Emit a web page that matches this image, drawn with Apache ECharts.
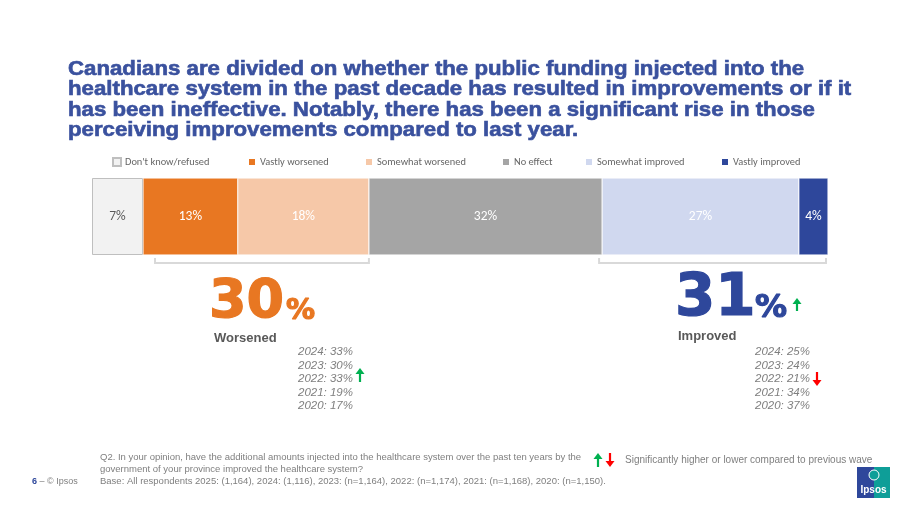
<!DOCTYPE html>
<html>
<head>
<meta charset="utf-8">
<script src="https://cdn.jsdelivr.net/npm/echarts@6/dist/echarts.min.js"></script>
<style>
  html, body { margin: 0; padding: 0; background: #fff; }
  #main { width: 920px; height: 518px; }
</style>
</head>
<body>
<div id="main"></div>
<script>
// --- data ---
const categories = ['2025'];
const seriesNames = ["Don't know/refused", 'Vastly worsened', 'Somewhat worsened', 'No effect', 'Somewhat improved', 'Vastly improved'];
const seriesValues = [7, 13, 18, 32, 27, 4];
const netWorsened = 30;
const netImproved = 31;
const prevYears = [2024, 2023, 2022, 2021, 2020];
const worsenedPrev = [33, 30, 33, 19, 17];
const improvedPrev = [25, 24, 21, 34, 37];
const titleText = 'Canadians are divided on whether the public funding injected into the\nhealthcare system in the past decade has resulted in improvements or if it\nhas been ineffective. Notably, there has been a significant rise in those\nperceiving improvements compared to last year.';

const colors = ['#F2F2F2', '#E87722', '#F6C8A8', '#A5A5A5', '#D0D8EF', '#2E479B'];
const labelColors = ['#595959', '#fff', '#fff', '#fff', '#fff', '#fff'];
const legendLeft = [112, 247, 364, 501, 584, 720];
const BLUE = '#3A519E';
const GREEN = '#00B050';
const RED = '#FF0000';
const barFont = 'Carlito, "Liberation Sans Narrow", "Noto Sans", sans-serif';
const lab = '"Liberation Sans", Arial, sans-serif';
const bigFont = '"DejaVu Sans", sans-serif';

const chart = echarts.init(document.getElementById('main'));

const total = seriesValues.reduce((a, b) => a + b, 0);

const option = {
  animation: false,
  legend: seriesNames.map((name, i) => ({
    data: [name],
    left: legendLeft[i],
    top: 157,
    padding: 0,
    itemWidth: 8,
    itemHeight: 8,
    itemGap: 0,
    icon: 'rect',
    selectedMode: false,
    textStyle: { fontFamily: barFont, fontSize: 10.4, color: '#666666', padding: [0, 0, 0, -1] }
  })),
  grid: { left: 92, right: 92, top: 178, height: 77 },
  xAxis: { type: 'value', min: 0, max: total, show: false },
  yAxis: { type: 'category', data: categories, show: false },
  series: seriesNames.map((name, i) => ({
    name: name,
    type: 'bar',
    stack: 'all',
    barWidth: '100%',
    data: [seriesValues[i]],
    itemStyle: {
      color: colors[i],
      borderColor: i === 0 ? '#BFBFBF' : '#ffffff',
      borderWidth: i === 0 ? 1 : 0.5
    },
    label: {
      show: true,
      position: 'inside',
      formatter: '{c}%',
      fontFamily: barFont,
      fontSize: 13.5,
      color: labelColors[i]
    }
  }))
};
chart.setOption(option);

// --- annotations (positioned from the axis) ---
function arrow(x, yTop, h, up, color) {
  const yBot = yTop + h;
  const tip = up ? yTop : yBot;
  const dir = up ? 1 : -1;
  return {
    type: 'group',
    children: [
      { type: 'line', shape: { x1: x, y1: yTop + (up ? 3 : 0), x2: x, y2: yBot - (up ? 0 : 3) },
        style: { stroke: color, lineWidth: 2.2 } },
      { type: 'polygon', shape: { points: [[x, tip], [x - 4.5, tip + dir * 6], [x + 4.5, tip + dir * 6]] },
        style: { fill: color } }
    ]
  };
}

function bracket(x1, x2, y) {
  return {
    type: 'polyline',
    shape: { points: [[x1, y - 5], [x1, y], [x2, y], [x2, y - 5]] },
    style: { stroke: '#D9D9D9', lineWidth: 2, fill: null }
  };
}

function historyList(x, vals) {
  return vals.map((v, i) => ({
    type: 'text',
    x: x,
    y: 352 + i * 13.5,
    style: {
      text: prevYears[i] + ': ' + v + '%',
      fontFamily: lab,
      fontStyle: 'italic',
      fontSize: 11.5,
      fill: '#7F7F7F',
      verticalAlign: 'middle'
    }
  }));
}

function bigText(x, y, text, size, color) {
  return { type: 'text', x: x, y: y, style: { text: text, fontFamily: bigFont, fontWeight: 'bold', fontSize: size,
    fill: color, stroke: color, lineWidth: 1.2, verticalAlign: 'middle' } };
}

const px = (v) => chart.convertToPixel({ xAxisIndex: 0 }, v);
const cum = [];
seriesValues.reduce((a, v) => { cum.push(a); return a + v; }, 0);
const wStart = px(cum[1]) + 12;
const wEnd = px(cum[3]);
const iStart = px(cum[4]) - 3;
const iEnd = px(total) - 2;

const graphics = [
  // headline
  { type: 'text', x: 68, y: 59, scaleX: 1.14, originX: 0,
    style: { text: titleText, fontFamily: lab, fontWeight: 'bold', fontSize: 19.5, lineHeight: 20.5,
      fill: BLUE, stroke: BLUE, lineWidth: 0.6, verticalAlign: 'top' } },
  bracket(wStart, wEnd, 263),
  bracket(iStart, iEnd, 263),
  bigText(209, 302.5, String(netWorsened), 54, '#E87722'),
  bigText(286, 311.5, '%', 29, '#E87722'),
  { type: 'text', x: 214, y: 338, style: { text: 'Worsened', fontFamily: lab, fontWeight: 'bold', fontSize: 13, fill: '#595959', verticalAlign: 'middle' } },
  bigText(675, 299.5, String(netImproved), 58, '#2E479B'),
  bigText(755, 308.5, '%', 32, '#2E479B'),
  { type: 'text', x: 678, y: 336, style: { text: 'Improved', fontFamily: lab, fontWeight: 'bold', fontSize: 13, fill: '#595959', verticalAlign: 'middle' } },
  ...historyList(298, worsenedPrev),
  ...historyList(755, improvedPrev),
  arrow(797, 298, 13, true, GREEN),
  arrow(360, 368, 14, true, GREEN),
  arrow(817, 372, 14, false, RED),
  // footer
  { type: 'text', x: 100, y: 457, style: { text: 'Q2. In your opinion, have the additional amounts injected into the healthcare system over the past ten years by the', fontFamily: lab, fontSize: 9.5, fill: '#7F7F7F', verticalAlign: 'middle' } },
  { type: 'text', x: 100, y: 469, style: { text: 'government of your province improved the healthcare system?', fontFamily: lab, fontSize: 9.5, fill: '#7F7F7F', verticalAlign: 'middle' } },
  { type: 'text', x: 100, y: 481, style: { text: 'Base: All respondents 2025: (1,164), 2024: (1,116), 2023: (n=1,164), 2022: (n=1,174), 2021: (n=1,168), 2020: (n=1,150).', fontFamily: lab, fontSize: 9.5, fill: '#7F7F7F', verticalAlign: 'middle' } },
  { type: 'text', x: 32, y: 482, style: { text: '{n|6} – © Ipsos', fontFamily: lab, fontSize: 9, fill: '#7F7F7F', verticalAlign: 'middle',
      rich: { n: { fontFamily: lab, fontSize: 9, fontWeight: 'bold', fill: '#2E479B' } } } },
  arrow(598, 453, 14, true, GREEN),
  arrow(610, 453, 14, false, RED),
  { type: 'text', x: 625, y: 460, style: { text: 'Significantly higher or lower compared to previous wave', fontFamily: lab, fontSize: 10, fill: '#7F7F7F', verticalAlign: 'middle' } },
  // Ipsos logo
  { type: 'rect', shape: { x: 857, y: 467, width: 17, height: 31 }, style: { fill: '#2E479B' } },
  { type: 'rect', shape: { x: 874, y: 467, width: 16, height: 31 }, style: { fill: '#0E9E98' } },
  { type: 'circle', shape: { cx: 874, cy: 475, r: 5 }, style: { fill: '#0E9E98', stroke: '#fff', lineWidth: 1 } },
  { type: 'text', x: 873.5, y: 490, style: { text: 'Ipsos', fontFamily: lab, fontWeight: 'bold', fontSize: 10, fill: '#fff', align: 'center', verticalAlign: 'middle' } }
];
chart.setOption({ graphic: graphics });
</script>
</body>
</html>
